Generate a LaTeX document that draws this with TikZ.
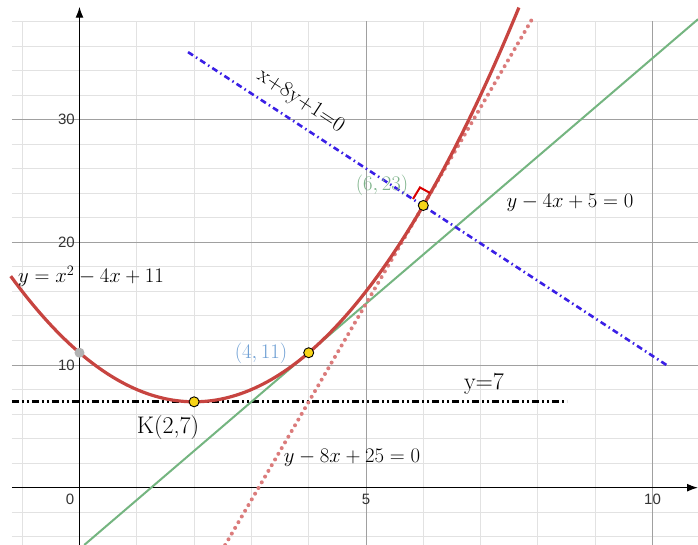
\documentclass[tikz,border=0pt]{standalone}
\usepackage{fontspec}
\newfontfamily\ticksf{Liberation Sans}
\usetikzlibrary{arrows.meta}
\definecolor{parared}{HTML}{C74440}
\definecolor{dotred}{HTML}{DB7B7B}
\definecolor{tangreen}{HTML}{74B580}
\definecolor{normblue}{HTML}{3A1FE6}
\definecolor{labgreen}{HTML}{7DB38A}
\definecolor{labblue}{HTML}{6E9FD4}
\definecolor{ptyellow}{HTML}{F7D417}
\definecolor{minorgrid}{HTML}{E2E2E2}
\definecolor{majorgrid}{HTML}{A0A0A0}
\definecolor{ticktext}{HTML}{333333}
\tikzset{
  minorline/.style={draw=minorgrid, line width=0.9pt},
  majorline/.style={draw=majorgrid, line width=0.9pt},
  axisline/.style={draw=black, line width=1.4pt, -{Latex[length=11pt,width=8pt]}},
  tick/.style={text=ticktext, font=\ticksf\fontsize{15}{17}\selectfont, inner sep=0pt},
  parab/.style={draw=parared, line width=3.2pt},
  tangdot/.style={draw=dotred, line width=4pt, line cap=round, dash pattern=on 0pt off 6.6pt},
  tangline/.style={draw=tangreen, line width=2pt},
  normline/.style={draw=normblue, line width=2.6pt, dash pattern=on 6pt off 3.5pt on 1.5pt off 3.5pt},
  hline/.style={draw=black, line width=3pt, dash pattern=on 7pt off 3pt on 2pt off 3pt on 2pt off 3pt},
  rightang/.style={draw=red!85!black, line width=2pt},
  ypoint/.style={circle, fill=ptyellow, draw=black, line width=0.9pt, minimum size=10pt, inner sep=0pt},
  gpoint/.style={circle, fill=black!30, minimum size=10pt, inner sep=0pt},
  mathlab/.style={inner sep=0pt, font=\fontsize{20}{24}\selectfont},
  romlab/.style={inner sep=0pt, font=\fontsize{24}{28}\selectfont},
}
\begin{document}
\begin{tikzpicture}[x=57.3pt,y=12.27pt]
\useasboundingbox (-1.3874,-4.6699) rectangle (10.7941,39.7474);
\fill[white] (-1.3874,-4.6699) rectangle (10.7941,39.7474);
\begin{scope}
\clip (-1.3874,-4.6699) rectangle (10.7941,39.7474);
% grid
\foreach \x in {-1,...,4,6,7,8,9}
  \draw[minorline] (\x,-4.7) -- (\x,38);
\foreach \y in {-4,-2,2,4,6,8,12,14,16,18,22,24,26,28,32,34,36,38}
  \draw[minorline] (-1.18,\y) -- (10.8,\y);
\foreach \x in {5,10}
  \draw[majorline] (\x,-4.7) -- (\x,38);
\foreach \y in {10,20,30}
  \draw[majorline] (-1.18,\y) -- (10.8,\y);
% axes
\coordinate (xa0) at (-1.18,0);
\coordinate (xa1) at (10.7941,0);
\coordinate (ya0) at (0,-4.7);
\coordinate (ya1) at (0,39.2);
\draw[axisline] (xa0) -- (xa1);
\draw[axisline] (ya0) -- (ya1);
% tick labels
\node[tick, anchor=east] (t30) at (-0.08,30) {30};
\node[tick, anchor=east] (t20) at (-0.08,20) {20};
\node[tick, anchor=east] (t10) at (-0.08,10) {10};
\node[tick] (t0) at (-0.166,-0.95) {0};
\node[tick] (t5) at (5,-0.95) {5};
\node[tick] (t10x) at (10,-0.95) {10};
% horizontal line y=7
\coordinate (h0) at (-1.178,7);
\coordinate (h1) at (8.508,7);
\draw[hline] (h0) -- (h1);
% tangent lines
\coordinate (g0) at (0.0825,-4.67);
\coordinate (g1) at (10.7941,38.18);
\draw[tangline] (g0) -- (g1);
\coordinate (r0) at (2.542,-4.67);
\coordinate (r1) at (7.9125,38.3);
\draw[tangdot] (r0) -- (r1);
% normal line
\coordinate (n0) at (1.894,35.50);
\coordinate (n1) at (10.270,9.92);
\draw[normline] (n0) -- (n1);
% parabola
\draw[parab] plot[domain=-1.2:7.67, samples=120] (\x,{\x*\x-4*\x+11});
% right angle marker
\coordinate (ra0) at (5.820,23.53);
\coordinate (ra1) at (5.942,24.47);
\coordinate (ra2) at (6.117,24.02);
\draw[rightang] (ra0) -- (ra1) -- (ra2);
\end{scope}
% points
\node[gpoint] (p0) at (0,11) {};
\node[ypoint] (pK) at (2,7) {};
\node[ypoint] (p4) at (4,11) {};
\node[ypoint] (p6) at (6,23) {};
% labels
\node[mathlab, anchor=west] (lpar) at (-1.073,17.24) {$y=x^2-4x+11$};
\node[inner sep=0pt, font=\fontsize{22}{26}\selectfont, rotate=-33.2] (lnorm) at (3.86,31.5) {x+8y+1=0};
\node[mathlab, text=labgreen] (l623) at (5.279,24.67) {$(6,23)$};
\node[mathlab] (ltg) at (8.560,23.20) {$y-4x+5=0$};
\node[mathlab, text=labblue] (l411) at (3.168,10.98) {$(4,11)$};
\node[romlab] (ly7) at (7.059,8.45) {y=7};
\node[romlab] (lK) at (1.545,4.87) {K(2,7)};
\node[mathlab] (ltr) at (4.756,2.42) {$y-8x+25=0$};
\end{tikzpicture}
\end{document}
